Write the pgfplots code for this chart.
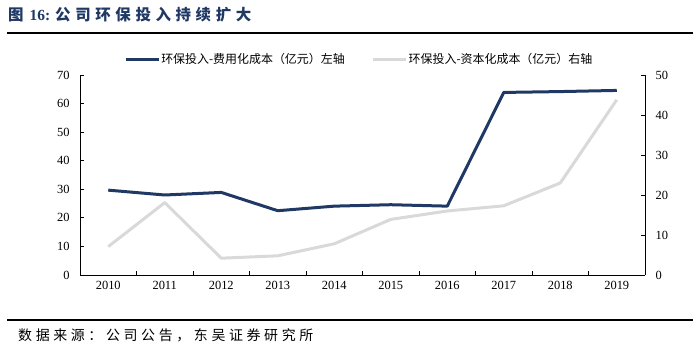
\documentclass[border=0pt]{standalone}
\usepackage{fontspec}
\setmainfont{Liberation Serif}
\newfontfamily\cjk{Noto Sans CJK SC}
\newfontfamily\cjkt[LetterSpace=30]{Noto Sans CJK SC}
\newfontfamily\cjks[LetterSpace=26]{Noto Sans CJK SC}
\usepackage{pgfplots}
\pgfplotsset{compat=1.18}
\definecolor{navy}{HTML}{1F3864}
\definecolor{lgray}{HTML}{D9D9D9}
\definecolor{titleblue}{HTML}{1F3864}

\pgfplotstableread{
x y
0 29.7
1 28.0
2 28.9
3 22.5
4 24.1
5 24.6
6 24.1
7 63.9
8 64.2
9 64.6
}\expense
\pgfplotstableread{
x y
0 7.1
1 18.1
2 4.2
3 4.8
4 7.8
5 13.9
6 16.0
7 17.3
8 23.0
9 43.8
}\capital

\begin{document}
\begin{tikzpicture}
\path[use as bounding box] (0,0) rectangle (693bp,352bp);
\pgfplotsset{every axis/.append style={
  scale only axis, width=565bp, height=200bp,
  at={(80bp,77bp)}, anchor=south west,
  xmin=-0.5, xmax=9.5,
  ticklabel style={font=\fontsize{12.5}{14}\selectfont},
  /pgf/number format/assume math mode=true,
  tick align=inside, major tick length=4bp,
  axis line style={line width=0.8bp, black},
  tick style={line width=0.8bp, black},
  clip=false,
}}
\begin{axis}[
  axis x line*=bottom, axis y line*=left,
  ymin=0, ymax=70, ytick={0,10,...,70},
  xtick={0.5,1.5,2.5,3.5,4.5,5.5,6.5,7.5,8.5}, xticklabels={},
  extra x ticks={0,1,2,3,4,5,6,7,8,9},
  extra x tick labels={2010,2011,2012,2013,2014,2015,2016,2017,2018,2019},
  extra x tick style={major tick length=0pt},
  xticklabel style={yshift=-3bp},
  yticklabel style={xshift=-7bp},
]
\addplot[navy, line width=3bp, line join=round] table[x=x,y=y]{\expense};
\end{axis}
\begin{axis}[
  axis x line=none, axis y line*=right,
  ymin=0, ymax=50, ytick={0,10,...,50},
  yticklabel style={xshift=7bp},
  legend columns=2,
  legend style={at={(axis description cs:0.078,1.08)}, anchor=west, draw=none, fill=none,
    font=\cjk\fontsize{12}{14}\selectfont, inner sep=0pt,
    nodes={inner sep=1bp},
    /tikz/every even column/.append style={column sep=26bp}},
  legend image code/.code={\draw[#1] (0bp,0bp) -- (33bp,0bp);},
]
\addlegendimage{navy, line width=3bp}
\addlegendentry{环保投入-费用化成本（亿元）左轴}
\addplot[lgray, line width=3bp, line join=round] table[x=x,y=y]{\capital};
\addlegendentry{环保投入-资本化成本（亿元）右轴}
\end{axis}
\draw[line width=2bp, black] (7bp,319bp) -- (693bp,319bp);
\draw[line width=2.5bp, black] (7bp,32bp) -- (693bp,32bp);
\node[anchor=west, inner sep=0pt, text=titleblue, font=\fontsize{15.5}{17}\selectfont\bfseries] at (8bp,337bp)
  {{\cjk\bfseries 图}\hspace{6bp}16:\hspace{5bp}{\cjkt\bfseries 公司环保投入持续扩大}};
\node[anchor=west, inner sep=0pt, font=\fontsize{14}{16}\selectfont] at (18bp,17bp)
  {\cjks 数据来源：公司公告，东吴证券研究所};
\end{tikzpicture}
\end{document}
